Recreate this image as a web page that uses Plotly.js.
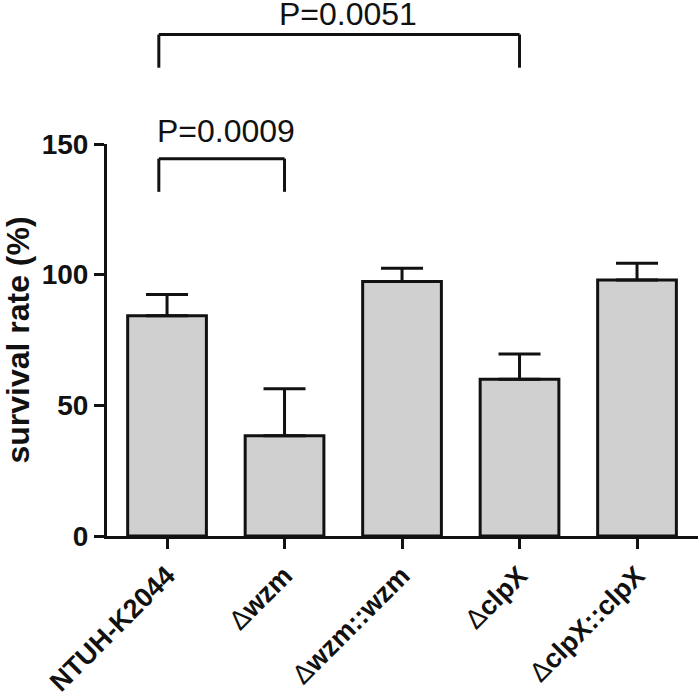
<!DOCTYPE html>
<html>
<head>
<meta charset="utf-8">
<script src="https://cdn.plot.ly/plotly-3.0.1.min.js"></script>
<style>html,body{margin:0;padding:0;background:#fff;}#chart{width:700px;height:697px;}</style>
</head>
<body>
<div id="chart"></div>
<script>
// ---- data ----
const strains = ["NTUH-K2044", "Δwzm", "Δwzm::wzm", "ΔclpX", "ΔclpX::clpX"];
const survival = [84.3, 38.4, 97.4, 60.0, 98.0];
const survivalErr = [8.1, 17.9, 5.1, 9.6, 6.4];
const yTicks = [0, 50, 100, 150];
// significance brackets
const compLeft = [0, 0];
const compRight = [1, 3];
const compLabel = ["P=0.0009", "P=0.0051"];
const compTop = [144.4, 191.9];
const labelX = [0.5, 1.54];
const labelY = [155.1, 199.6];

const yRange = [0, 150];
const toPaper = v => (v - yRange[0]) / (yRange[1] - yRange[0]);

const idx = strains.map((_, i) => i);
const tickText = strains.map(s => s.replace("Δ", "<span style='font-weight:normal'>Δ</span>"));

const trace = {
  type: "bar",
  x: idx,
  y: survival,
  width: 0.67,
  marker: {color: "#d0d0d0", line: {color: "#111", width: 3}},
  error_y: {type: "data", array: survivalErr, arrayminus: survivalErr.map(() => 0),
            symmetric: false, color: "#111", thickness: 3, width: 21},
  hoverinfo: "none"
};

const shapes = [];
const annotations = [];
const drop = 12.7, leftShift = 0.07;
for (let i = 0; i < compLabel.length; i++) {
  const x0 = compLeft[i] - leftShift, x1 = compRight[i];
  const yt = toPaper(compTop[i]), yb = toPaper(compTop[i] - drop);
  const ln = {color: "#111", width: 3};
  shapes.push({type: "line", xref: "x", yref: "paper", x0: x0, x1: x1, y0: yt, y1: yt, line: ln});
  shapes.push({type: "line", xref: "x", yref: "paper", x0: x0, x1: x0, y0: yt, y1: yb, line: ln});
  shapes.push({type: "line", xref: "x", yref: "paper", x0: x1, x1: x1, y0: yt, y1: yb, line: ln});
  annotations.push({xref: "x", yref: "paper", x: labelX[i], y: toPaper(labelY[i]), text: compLabel[i],
    showarrow: false, xanchor: "center", yanchor: "middle",
    font: {family: "Liberation Sans, Arial, sans-serif", size: 32, color: "#111"}});
}

const layout = {
  width: 700, height: 697,
  margin: {l: 107, r: 2, t: 144, b: 161},
  paper_bgcolor: "#fff", plot_bgcolor: "#fff",
  showlegend: false,
  xaxis: {
    range: [-0.511, 4.519],
    tickvals: idx, ticktext: tickText, tickangle: -45,
    showline: true, linecolor: "#111", linewidth: 3,
    ticks: "outside", ticklen: 10, tickwidth: 3, tickcolor: "#111",
    showgrid: false, zeroline: false,
    tickfont: {family: "Liberation Sans, Arial, sans-serif", size: 27, color: "#111", weight: "bold"}
  },
  yaxis: {
    range: yRange, tickvals: yTicks,
    showline: true, linecolor: "#111", linewidth: 3,
    ticks: "outside", ticklen: 10, tickwidth: 3, tickcolor: "#111",
    showgrid: false, zeroline: false,
    tickfont: {family: "Liberation Sans, Arial, sans-serif", size: 28, color: "#111", weight: "bold"},
    title: {text: "survival rate (%)", standoff: 6,
            font: {family: "Liberation Sans, Arial, sans-serif", size: 32, color: "#111", weight: "bold"}}
  },
  shapes: shapes,
  annotations: annotations
};

Plotly.newPlot("chart", [trace], layout, {displayModeBar: false, staticPlot: true});
</script>
</body>
</html>
